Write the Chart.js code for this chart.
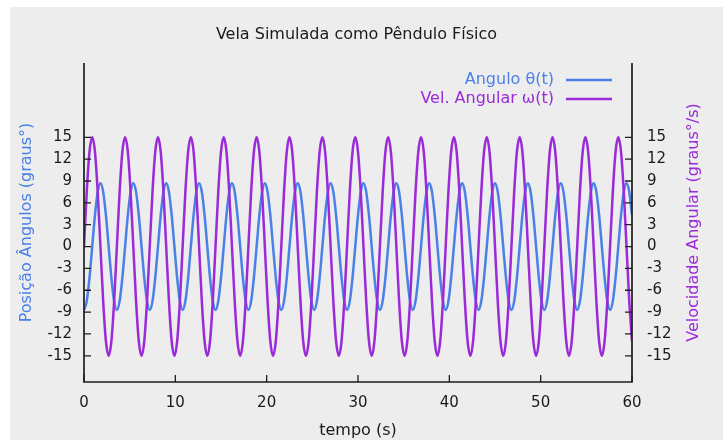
<!DOCTYPE html>
<html>
<head>
<meta charset="utf-8">
<script src="https://cdn.jsdelivr.net/npm/chart.js@4/dist/chart.umd.min.js"></script>
<style>
  html, body { margin: 0; padding: 0; background: #ffffff; }
  canvas { display: block; }
</style>
</head>
<body>
<canvas id="grafico" width="723" height="440"></canvas>
<script>
// Tempo de simulação (s), amostrado a cada 0,3 s
const tempo = [
  0, 0.3, 0.6, 0.9, 1.2, 1.5, 1.8, 2.1, 2.4, 2.7, 3, 3.3,
  3.6, 3.9, 4.2, 4.5, 4.8, 5.1, 5.4, 5.7, 6, 6.3, 6.6, 6.9,
  7.2, 7.5, 7.8, 8.1, 8.4, 8.7, 9, 9.3, 9.6, 9.9, 10.2, 10.5,
  10.8, 11.1, 11.4, 11.7, 12, 12.3, 12.6, 12.9, 13.2, 13.5, 13.8, 14.1,
  14.4, 14.7, 15, 15.3, 15.6, 15.9, 16.2, 16.5, 16.8, 17.1, 17.4, 17.7,
  18, 18.3, 18.6, 18.9, 19.2, 19.5, 19.8, 20.1, 20.4, 20.7, 21, 21.3,
  21.6, 21.9, 22.2, 22.5, 22.8, 23.1, 23.4, 23.7, 24, 24.3, 24.6, 24.9,
  25.2, 25.5, 25.8, 26.1, 26.4, 26.7, 27, 27.3, 27.6, 27.9, 28.2, 28.5,
  28.8, 29.1, 29.4, 29.7, 30, 30.3, 30.6, 30.9, 31.2, 31.5, 31.8, 32.1,
  32.4, 32.7, 33, 33.3, 33.6, 33.9, 34.2, 34.5, 34.8, 35.1, 35.4, 35.7,
  36, 36.3, 36.6, 36.9, 37.2, 37.5, 37.8, 38.1, 38.4, 38.7, 39, 39.3,
  39.6, 39.9, 40.2, 40.5, 40.8, 41.1, 41.4, 41.7, 42, 42.3, 42.6, 42.9,
  43.2, 43.5, 43.8, 44.1, 44.4, 44.7, 45, 45.3, 45.6, 45.9, 46.2, 46.5,
  46.8, 47.1, 47.4, 47.7, 48, 48.3, 48.6, 48.9, 49.2, 49.5, 49.8, 50.1,
  50.4, 50.7, 51, 51.3, 51.6, 51.9, 52.2, 52.5, 52.8, 53.1, 53.4, 53.7,
  54, 54.3, 54.6, 54.9, 55.2, 55.5, 55.8, 56.1, 56.4, 56.7, 57, 57.3,
  57.6, 57.9, 58.2, 58.5, 58.8, 59.1, 59.4, 59.7, 60
];

// Posição angular θ(t) em graus
const angulo = [
  -8.7, -7.5, -4.3, 0, 4.3, 7.5, 8.7, 7.5, 4.3, 0, -4.3, -7.5,
  -8.7, -7.5, -4.3, 0, 4.3, 7.5, 8.7, 7.5, 4.3, 0, -4.3, -7.5,
  -8.7, -7.5, -4.3, 0, 4.3, 7.5, 8.7, 7.5, 4.3, 0, -4.3, -7.5,
  -8.7, -7.5, -4.3, 0, 4.3, 7.5, 8.7, 7.5, 4.3, 0, -4.3, -7.5,
  -8.7, -7.5, -4.3, 0, 4.3, 7.5, 8.7, 7.5, 4.3, 0, -4.3, -7.5,
  -8.7, -7.5, -4.3, 0, 4.3, 7.5, 8.7, 7.5, 4.3, 0, -4.3, -7.5,
  -8.7, -7.5, -4.3, 0, 4.3, 7.5, 8.7, 7.5, 4.3, 0, -4.3, -7.5,
  -8.7, -7.5, -4.3, 0, 4.3, 7.5, 8.7, 7.5, 4.3, 0, -4.3, -7.5,
  -8.7, -7.5, -4.3, 0, 4.3, 7.5, 8.7, 7.5, 4.3, 0, -4.3, -7.5,
  -8.7, -7.5, -4.3, 0, 4.3, 7.5, 8.7, 7.5, 4.3, 0, -4.3, -7.5,
  -8.7, -7.5, -4.3, 0, 4.3, 7.5, 8.7, 7.5, 4.3, 0, -4.3, -7.5,
  -8.7, -7.5, -4.3, 0, 4.3, 7.5, 8.7, 7.5, 4.3, 0, -4.3, -7.5,
  -8.7, -7.5, -4.3, 0, 4.3, 7.5, 8.7, 7.5, 4.3, 0, -4.3, -7.5,
  -8.7, -7.5, -4.3, 0, 4.3, 7.5, 8.7, 7.5, 4.3, 0, -4.3, -7.5,
  -8.7, -7.5, -4.3, 0, 4.3, 7.5, 8.7, 7.5, 4.3, 0, -4.3, -7.5,
  -8.7, -7.5, -4.3, 0, 4.3, 7.5, 8.7, 7.5, 4.3, 0, -4.3, -7.5,
  -8.7, -7.5, -4.3, 0, 4.3, 7.5, 8.7, 7.5, 4.3
];

// Velocidade angular ω(t) em graus/s
const velocidade = [
  0, 7.5, 13, 15, 13, 7.5, 0, -7.5, -13, -15, -13, -7.5,
  0, 7.5, 13, 15, 13, 7.5, 0, -7.5, -13, -15, -13, -7.5,
  0, 7.5, 13, 15, 13, 7.5, 0, -7.5, -13, -15, -13, -7.5,
  0, 7.5, 13, 15, 13, 7.5, 0, -7.5, -13, -15, -13, -7.5,
  0, 7.5, 13, 15, 13, 7.5, 0, -7.5, -13, -15, -13, -7.5,
  0, 7.5, 13, 15, 13, 7.5, 0, -7.5, -13, -15, -13, -7.5,
  0, 7.5, 13, 15, 13, 7.5, 0, -7.5, -13, -15, -13, -7.5,
  0, 7.5, 13, 15, 13, 7.5, 0, -7.5, -13, -15, -13, -7.5,
  0, 7.5, 13, 15, 13, 7.5, 0, -7.5, -13, -15, -13, -7.5,
  0, 7.5, 13, 15, 13, 7.5, 0, -7.5, -13, -15, -13, -7.5,
  0, 7.5, 13, 15, 13, 7.5, 0, -7.5, -13, -15, -13, -7.5,
  0, 7.5, 13, 15, 13, 7.5, 0, -7.5, -13, -15, -13, -7.5,
  0, 7.5, 13, 15, 13, 7.5, 0, -7.5, -13, -15, -13, -7.5,
  0, 7.5, 13, 15, 13, 7.5, 0, -7.5, -13, -15, -13, -7.5,
  0, 7.5, 13, 15, 13, 7.5, 0, -7.5, -13, -15, -13, -7.5,
  0, 7.5, 13, 15, 13, 7.5, 0, -7.5, -13, -15, -13, -7.5,
  0, 7.5, 13, 15, 13, 7.5, 0, -7.5, -13
];

const ticksTempo = [0, 10, 20, 30, 40, 50, 60];
const ticksGraus = [-15, -12, -9, -6, -3, 0, 3, 6, 9, 12, 15];
const nomesSeries = ['Angulo θ(t)', 'Vel. Angular ω(t)'];
const tituloDireito = 'Velocidade Angular (graus°/s)';

const AZUL = '#4a80e8';
const ROXO = '#9b2ad8';
const TEXTO = '#1a1a1a';
const FONTE = "'DejaVu Sans', 'Liberation Sans', sans-serif";

const pontos = (ys) => tempo.map((t, i) => ({ x: t, y: ys[i] }));

// Fundo cinza da janela de plotagem
const fundo = {
  id: 'fundo',
  beforeDraw(chart) {
    const { ctx, width, height } = chart;
    ctx.save();
    ctx.fillStyle = '#ffffff';
    ctx.fillRect(0, 0, width, height);
    ctx.fillStyle = '#ededed';
    ctx.fillRect(10, 7, width - 10, height - 7);
    ctx.restore();
  }
};

// Eixos esquerdo, direito e inferior com marcas voltadas para dentro
const eixos = {
  id: 'eixos',
  afterDatasetsDraw(chart) {
    const { ctx, chartArea: a, scales } = chart;
    const L = 7;
    ctx.save();
    ctx.strokeStyle = '#1e1e1e';
    ctx.lineWidth = 1.7;
    ctx.beginPath();
    ctx.moveTo(a.left, a.top);
    ctx.lineTo(a.left, a.bottom);
    ctx.lineTo(a.right, a.bottom);
    ctx.lineTo(a.right, a.top);
    ctx.stroke();
    ctx.lineWidth = 1.3;
    ctx.beginPath();
    ticksTempo.forEach(v => {
      const x = scales.x.getPixelForValue(v);
      ctx.moveTo(x, a.bottom);
      ctx.lineTo(x, a.bottom - L);
    });
    ticksGraus.forEach(v => {
      const y = scales.y.getPixelForValue(v);
      ctx.moveTo(a.left, y);
      ctx.lineTo(a.left + L, y);
      const y2 = scales.y2.getPixelForValue(v);
      ctx.moveTo(a.right, y2);
      ctx.lineTo(a.right - L, y2);
    });
    ctx.stroke();

    // título do eixo direito, lido de baixo para cima
    ctx.translate(a.right + 62, (a.top + a.bottom) / 2);
    ctx.rotate(-Math.PI / 2);
    ctx.font = '16px ' + FONTE;
    ctx.fillStyle = ROXO;
    ctx.textAlign = 'center';
    ctx.textBaseline = 'middle';
    ctx.fillText(tituloDireito, 0, 0);
    ctx.restore();
  }
};

// Legenda no canto superior direito: texto à esquerda, amostra da linha à direita
const legenda = {
  id: 'legenda',
  afterDraw(chart) {
    const { ctx, chartArea: a } = chart;
    const xTexto = a.right - 78;
    const x0 = a.right - 66;
    const x1 = a.right - 20;
    ctx.save();
    ctx.font = '16px ' + FONTE;
    ctx.textAlign = 'right';
    ctx.textBaseline = 'middle';
    [0, 1].forEach(i => {
      const ds = chart.data.datasets[i];
      const y = a.top + 17 + i * 19;
      ctx.fillStyle = ds.borderColor;
      ctx.fillText(ds.label, xTexto, y);
      ctx.strokeStyle = ds.borderColor;
      ctx.lineWidth = 2.5;
      ctx.beginPath();
      ctx.moveTo(x0, y);
      ctx.lineTo(x1, y);
      ctx.stroke();
    });
    ctx.restore();
  }
};

const eixoY = (posicao, titulo, cor, largura, pad, padTitulo) => ({
  type: 'linear',
  position: posicao,
  min: -18.6,
  max: 25.2,
  afterBuildTicks: s => { s.ticks = ticksGraus.map(v => ({ value: v })); },
  afterFit: s => { s.width = largura; },
  grid: { display: false, drawTicks: false },
  border: { display: false },
  ticks: {
    color: TEXTO,
    font: { family: FONTE, size: 15 },
    padding: pad,
    callback: v => String(v)
  },
  title: {
    display: titulo !== '',
    text: titulo,
    color: cor,
    font: { family: FONTE, size: 16 },
    padding: { top: padTitulo, bottom: 0 }
  }
});

new Chart(document.getElementById('grafico'), {
  type: 'line',
  data: {
    datasets: [
      {
        label: nomesSeries[0],
        data: pontos(angulo),
        yAxisID: 'y',
        borderColor: AZUL,
        borderWidth: 2.5,
        pointRadius: 0,
        cubicInterpolationMode: 'monotone',
        fill: false,
        order: 1
      },
      {
        label: nomesSeries[1],
        data: pontos(velocidade),
        yAxisID: 'y2',
        borderColor: ROXO,
        borderWidth: 2.5,
        pointRadius: 0,
        cubicInterpolationMode: 'monotone',
        fill: false,
        order: 0
      }
    ]
  },
  options: {
    responsive: false,
    animation: false,
    layout: { padding: { left: 0, right: 10, top: 0, bottom: 0 } },
    plugins: {
      legend: { display: false },
      tooltip: { enabled: false },
      title: {
        display: true,
        text: 'Vela Simulada como Pêndulo Físico',
        color: TEXTO,
        font: { family: FONTE, size: 16, weight: 'normal' },
        padding: { top: 25, bottom: 18.8 }
      }
    },
    scales: {
      x: {
        type: 'linear',
        min: 0,
        max: 60,
        afterBuildTicks: s => { s.ticks = ticksTempo.map(v => ({ value: v })); },
        afterFit: s => { s.height = 58; },
        grid: { display: false, drawTicks: false },
        border: { display: false },
        ticks: {
          color: TEXTO,
          font: { family: FONTE, size: 15 },
          padding: 12,
          maxRotation: 0
        },
        title: {
          display: true,
          text: 'tempo (s)',
          color: TEXTO,
          font: { family: FONTE, size: 16 },
          padding: { top: 0, bottom: 0 }
        }
      },
      y: eixoY('left', 'Posição Ângulos (graus°)', AZUL, 84, 12, 17),
      y2: eixoY('right', '', ROXO, 81, 15, 0)
    }
  },
  plugins: [fundo, eixos, legenda]
});
</script>
</body>
</html>
